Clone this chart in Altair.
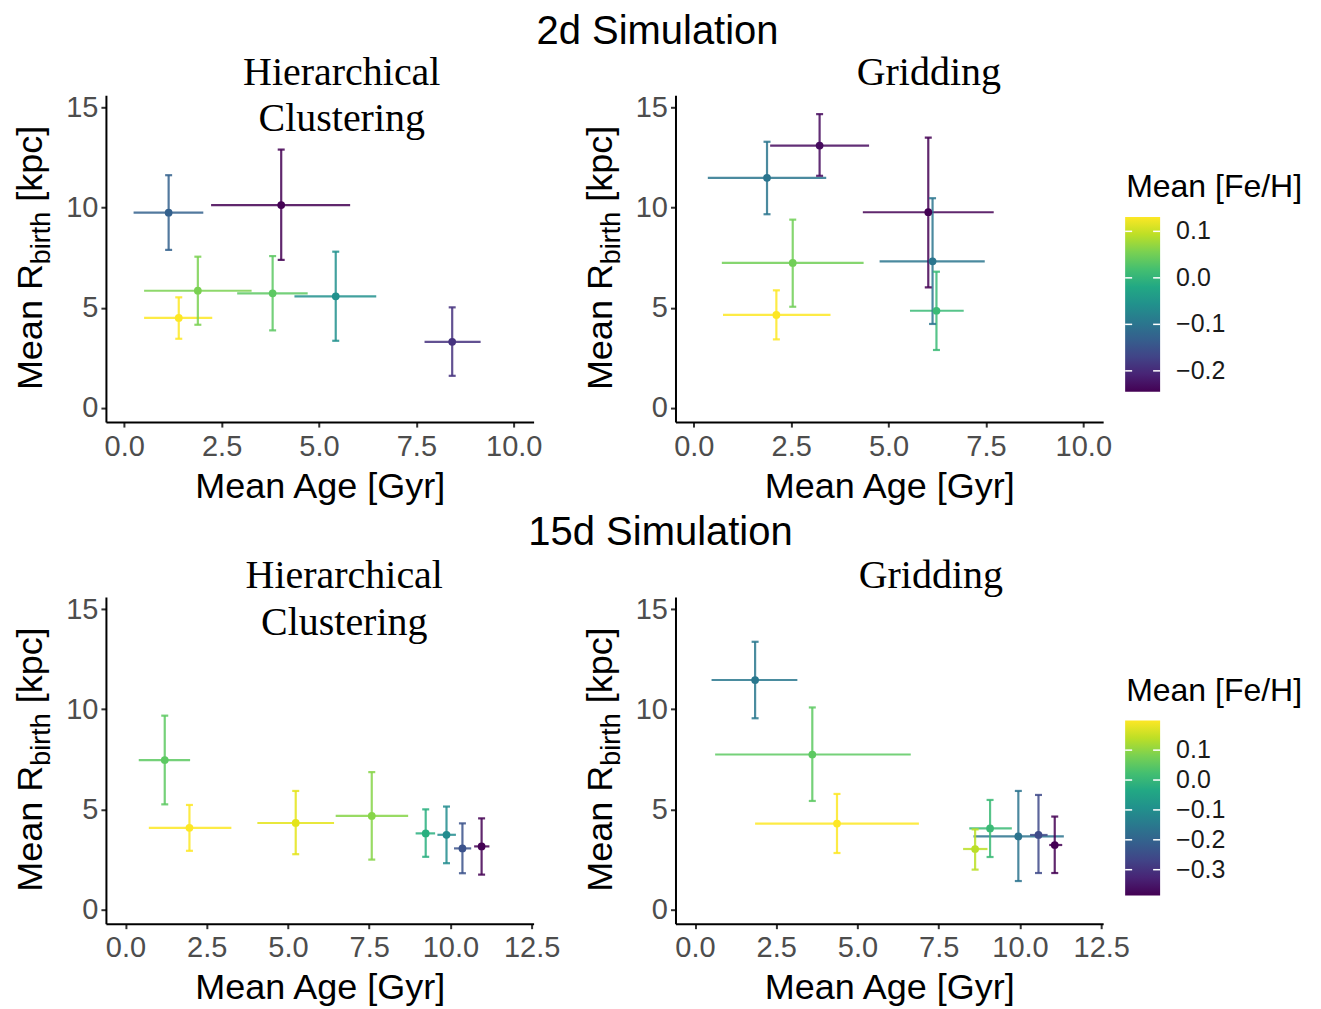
import altair as alt
import pandas as pd

# ---------------- data ----------------
# 2d simulation, hierarchical clustering
hc2d_age    = [1.14, 4.03, 1.89, 1.40, 3.81, 5.43, 8.42]
hc2d_age_lo = [0.24, 2.23, 0.51, 0.51, 2.90, 4.37, 7.71]
hc2d_age_hi = [2.03, 5.80, 3.27, 2.26, 4.71, 6.47, 9.15]
hc2d_r      = [9.75, 10.13, 5.85, 4.49, 5.72, 5.57, 3.30]
hc2d_r_lo   = [7.89, 7.39, 4.15, 3.45, 3.87, 3.35, 1.60]
hc2d_r_hi   = [11.62, 12.90, 7.55, 5.52, 7.58, 7.80, 5.02]
hc2d_feh    = [-0.13, -0.245, 0.056, 0.131, 0.037, -0.057, -0.19]

# 2d simulation, gridding
gr2d_age    = [3.23, 1.88, 6.02, 2.54, 6.13, 2.12, 6.23]
gr2d_age_lo = [1.96, 0.36, 4.34, 0.72, 4.77, 0.75, 5.55]
gr2d_age_hi = [4.50, 3.40, 7.70, 4.36, 7.47, 3.51, 6.93]
gr2d_r      = [13.10, 11.49, 9.77, 7.24, 7.32, 4.64, 4.85]
gr2d_r_lo   = [11.59, 9.67, 6.02, 5.05, 4.19, 3.42, 2.89]
gr2d_r_hi   = [14.67, 13.29, 13.50, 9.40, 10.47, 5.87, 6.80]
gr2d_feh    = [-0.235, -0.10, -0.245, 0.05, -0.10, 0.131, 0.01]

# 15d simulation, hierarchical clustering
hc15_age    = [1.21, 1.97, 5.24, 7.58, 9.24, 9.88, 10.37, 10.96]
hc15_age_lo = [0.41, 0.72, 4.06, 6.47, 8.93, 9.60, 10.11, 10.73]
hc15_age_hi = [1.99, 3.26, 6.42, 8.70, 9.53, 10.17, 10.64, 11.20]
hc15_r      = [7.46, 4.08, 4.32, 4.67, 3.80, 3.73, 3.05, 3.15]
hc15_r_lo   = [5.25, 2.93, 2.76, 2.49, 2.63, 2.31, 1.81, 1.74]
hc15_r_hi   = [9.68, 5.22, 5.92, 6.86, 5.00, 5.14, 4.30, 4.55]
hc15_feh    = [0.053, 0.199, 0.175, 0.094, -0.017, -0.105, -0.24, -0.386]

# 15d simulation, gridding
gr15_age    = [1.85, 3.61, 4.37, 8.62, 9.08, 9.95, 10.57, 11.07]
gr15_age_lo = [0.51, 0.62, 1.85, 8.25, 8.44, 8.57, 10.31, 10.90]
gr15_age_hi = [3.15, 6.64, 6.89, 9.00, 9.75, 11.35, 10.85, 11.30]
gr15_r      = [11.46, 7.74, 4.29, 3.02, 4.05, 3.65, 3.72, 3.22]
gr15_r_lo   = [9.55, 5.42, 2.82, 1.99, 2.62, 1.42, 1.82, 1.82]
gr15_r_hi   = [13.37, 10.09, 5.77, 4.00, 5.47, 5.92, 5.72, 4.64]
gr15_feh    = [-0.152, 0.053, 0.199, 0.14, 0.012, -0.164, -0.257, -0.386]

# axis ticks / colour ranges
x_ticks_2d = [0.0, 2.5, 5.0, 7.5, 10.0]
x_ticks_15d = [0.0, 2.5, 5.0, 7.5, 10.0, 12.5]
y_ticks = [0, 5, 10, 15]
feh_range_2d = [-0.245, 0.131]
feh_range_15d = [-0.386, 0.199]
legend_ticks_2d = [0.1, 0.0, -0.1, -0.2]
legend_ticks_15d = [0.1, 0.0, -0.1, -0.2, -0.3]

# viridis stops for the colour bar
VIRIDIS = ["#440154", "#482475", "#414487", "#355f8d", "#2a788e", "#21918c",
           "#22a884", "#44bf70", "#7ad151", "#bddf26", "#fde725"]

# ---------------- styling ----------------
W, H = 428, 327
FONT = "Liberation Sans"
SERIF = "Liberation Serif"
ONE = pd.DataFrame({"k": [0]})
YT_X = -64  # baseline of the rotated y title (px from plot left)
LEG_X = 450
GRAD_LEN = 175
GRAD_W = 35


def make_df(age, alo, ahi, r, rlo, rhi, feh):
    return pd.DataFrame(dict(age=age, age_lo=alo, age_hi=ahi,
                             r=r, r_lo=rlo, r_hi=rhi, feh=feh))


def txt(text, x, y, size, font=FONT, align="center", angle=None,
        baseline="alphabetic", color="black"):
    kw = dict(text=text, font=font, fontSize=size, align=align,
              baseline=baseline, color=color)
    if angle is not None:
        kw["angle"] = angle
    return alt.Chart(ONE).mark_text(**kw).encode(x=alt.value(x), y=alt.value(y))


def ytitle():
    return [
        txt("Mean R", YT_X, 295, 36, align="left", angle=270),
        txt("birth", YT_X + 8, 169, 27, align="left", angle=270),
        txt("[kpc]", YT_X, 106.5, 36, align="left", angle=270),
    ]


def colorbar(vals, cdom, title_y, top):
    """ggplot-style colour bar: title, gradient, white ticks, labels"""
    n = len(VIRIDIS) - 1
    grad = alt.LinearGradient(
        gradient="linear", x1=0, x2=0, y1=1, y2=0,
        stops=[alt.GradientStop(offset=i / n, color=c) for i, c in enumerate(VIRIDIS)])
    out = [txt("Mean [Fe/H]", LEG_X + 1, title_y, 32, align="left"),
           alt.Chart(ONE).mark_rect(color=grad).encode(
               x=alt.value(LEG_X), x2=alt.value(LEG_X + GRAD_W),
               y=alt.value(top), y2=alt.value(top + GRAD_LEN))]
    lo, hi = cdom
    for v in vals:
        py = top + (hi - v) / (hi - lo) * GRAD_LEN
        for a, b in [(LEG_X, LEG_X + 7), (LEG_X + GRAD_W - 7, LEG_X + GRAD_W)]:
            out.append(alt.Chart(ONE).mark_rule(color="white", strokeWidth=1.5).encode(
                x=alt.value(a), x2=alt.value(b), y=alt.value(py)))
        label = f"{v:.1f}".replace("-", "\u2212")
        out.append(txt(label, LEG_X + GRAD_W + 16, py, 25, align="left",
                       baseline="middle", color="#1a1a1a"))
    return out


def panel(df, xdom, xvals, cdom, texts, extra=()):
    xs = alt.Scale(domain=xdom, nice=False, zero=False)
    ys = alt.Scale(domain=[-0.71, 15.61], nice=False, zero=False)
    xa = alt.Axis(values=xvals, format=".1f", title="Mean Age [Gyr]",
                  titlePadding=8, labelPadding=5)
    ya = alt.Axis(values=y_ticks, format="d", title=None, labelPadding=3)
    col = alt.Color("feh:Q", scale=alt.Scale(scheme="viridis", domain=cdom),
                    legend=None)
    base = alt.Chart(df)
    hbar = base.mark_rule(strokeWidth=2.2, opacity=0.85).encode(
        x=alt.X("age_lo:Q", scale=xs, axis=xa), x2="age_hi:Q",
        y=alt.Y("r:Q", scale=ys, axis=ya), color=col)
    vbar = base.mark_rule(strokeWidth=2.2, opacity=0.85).encode(
        x=alt.X("age:Q", scale=xs, axis=xa),
        y=alt.Y("r_lo:Q", scale=ys, axis=ya), y2="r_hi:Q", color=col)
    cap_lo = base.mark_tick(orient="horizontal", size=7, thickness=2.2,
                            opacity=0.85).encode(
        x=alt.X("age:Q", scale=xs, axis=xa),
        y=alt.Y("r_lo:Q", scale=ys, axis=ya), color=col)
    cap_hi = base.mark_tick(orient="horizontal", size=7, thickness=2.2,
                            opacity=0.85).encode(
        x=alt.X("age:Q", scale=xs, axis=xa),
        y=alt.Y("r_hi:Q", scale=ys, axis=ya), color=col)
    pts = base.mark_circle(size=60, opacity=1).encode(
        x=alt.X("age:Q", scale=xs, axis=xa),
        y=alt.Y("r:Q", scale=ys, axis=ya), color=col)
    return alt.layer(hbar, vbar, cap_lo, cap_hi, pts, *texts, *ytitle(),
                     *extra).properties(width=W, height=H)


df1 = make_df(hc2d_age, hc2d_age_lo, hc2d_age_hi, hc2d_r, hc2d_r_lo, hc2d_r_hi, hc2d_feh)
df2 = make_df(gr2d_age, gr2d_age_lo, gr2d_age_hi, gr2d_r, gr2d_r_lo, gr2d_r_hi, gr2d_feh)
df3 = make_df(hc15_age, hc15_age_lo, hc15_age_hi, hc15_r, hc15_r_lo, hc15_r_hi, hc15_feh)
df4 = make_df(gr15_age, gr15_age_lo, gr15_age_hi, gr15_r, gr15_r_lo, gr15_r_hi, gr15_feh)

p1 = panel(df1, [-0.47, 10.51], x_ticks_2d, feh_range_2d, [
    txt("2d Simulation", 552, -51, 40),
    txt("Hierarchical", 236, -10, 40, font=SERIF),
    txt("Clustering", 236, 36, 40, font=SERIF),
])
p2 = panel(df2, [-0.47, 10.51], x_ticks_2d, feh_range_2d, [
    txt("Gridding", 253.5, -10, 40, font=SERIF),
], colorbar(legend_ticks_2d, feh_range_2d, 101.5, 121.7))
p3 = panel(df3, [-0.6, 12.56], x_ticks_15d, feh_range_15d, [
    txt("15d Simulation", 555, -52, 40),
    txt("Hierarchical", 238.5, -9, 40, font=SERIF),
    txt("Clustering", 238.5, 38, 40, font=SERIF),
])
p4 = panel(df4, [-0.6, 12.56], x_ticks_15d, feh_range_15d, [
    txt("Gridding", 255.5, -9, 40, font=SERIF),
], colorbar(legend_ticks_15d, feh_range_15d, 104, 123.7))

chart = alt.concat(p1, p2, p3, p4, columns=2, bounds="flush",
                   spacing={"row": 175, "column": 142}).resolve_scale(
    x="independent", y="independent", color="independent"
).properties(
    padding={"left": 5, "top": 4, "right": 10, "bottom": 5}
).configure_view(strokeWidth=0).configure_axis(
    grid=False, domainColor="black", domainWidth=2, tickColor="#333333",
    tickWidth=2, tickSize=5, labelFont=FONT, labelFontSize=29,
    labelColor="#4d4d4d", titleFont=FONT, titleFontSize=36,
    titleFontWeight="normal", titleColor="black"
)

chart.save("out.html", embed_options={"renderer": "svg", "actions": False})
